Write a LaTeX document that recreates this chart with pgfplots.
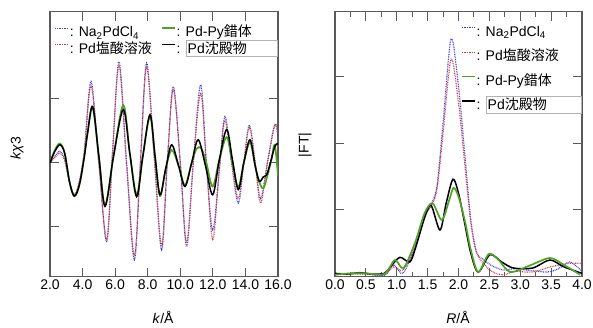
\documentclass[border=0pt]{standalone}
\usepackage{pgfplots}
\pgfplotsset{compat=1.18}
\usepackage{fontspec}
\setmainfont{Liberation Sans}
\newfontfamily\cjk{Noto Sans CJK JP}
\definecolor{cblue}{RGB}{60,60,220}
\definecolor{cred}{RGB}{200,60,60}
\definecolor{cgreen}{RGB}{80,160,40}
\definecolor{axgray}{RGB}{90,90,90}
\newcommand{\lt}[1]{\raisebox{0pt}[11bp][3bp]{#1}}
\pgfplotsset{
  myaxis/.style={
    scale only axis,
    axis line style={axgray,line width=1.1pt},
    every tick/.style={axgray,line width=1pt},
    tick align=inside,
    major tick length=9bp,
    minor tick length=5bp,
    xtick pos=both, ytick pos=both,
    yticklabels={},
    xticklabel style={/pgf/number format/fixed,/pgf/number format/fixed zerofill,/pgf/number format/precision=1,/pgf/number format/assume math mode=true},
    legend cell align=left,
    legend image code/.code={\draw[#1] (0bp,4bp) -- (13bp,4bp);},
    legend style={draw=none, fill=none, inner sep=0pt, outer sep=0pt, font=\fontsize{14bp}{16bp}\selectfont,
      nodes={inner sep=1bp}},
  },
  dotb/.style={cblue, line width=1.2pt, dash pattern=on 0.8pt off 0.9pt},
  dotr/.style={cred, line width=1.2pt, dash pattern=on 0.8pt off 0.9pt},
  solg/.style={cgreen, line width=1.7pt},
  solk/.style={black, line width=1.5pt},
}
\setlength{\fboxsep}{1.5bp}
\setlength{\fboxrule}{0.5bp}
\begin{document}
\begin{tikzpicture}[font=\fontsize{14bp}{16bp}\selectfont]
\path[use as bounding box] (-50bp,-51.3bp) rectangle (543bp,276.7bp);
% ---------------- left: k-space ----------------
\begin{axis}[myaxis,
  at={(0bp,0bp)}, anchor=south west,
  width=228bp, height=265bp,
  xmin=2, xmax=16, ymin=-1.78, ymax=2.36,
  xtick={2,4,...,16}, ytick={-1,0,1},
  xlabel={\textit{k}/Å},
  ylabel={\textit{kχ}3},
  xlabel style={at={(axis description cs:0.496,-0.155)}, anchor=center},
  ylabel style={at={(axis description cs:-0.145,0.486)}, anchor=center},
  legend columns=2,
  legend style={at={(axis description cs:0.02,0.95)}, anchor=north west, /tikz/every even column/.append style={column sep=8bp}, row sep=2bp},
]
\addlegendimage{dotb}\addlegendentry{\lt{: Na\textsubscript{2}PdCl\textsubscript{4}}}
\addlegendimage{solg}\addlegendentry{\lt{: Pd-Py{\cjk 錯体}}}
\addlegendimage{dotr}\addlegendentry{\lt{: Pd{\cjk 塩酸溶液}}}
\addlegendimage{solk}\addlegendentry{\lt{: \fcolorbox{gray!60}{white}{\makebox[88bp][l]{Pd{\cjk 沈殿物}}}}}
\addplot[dotb, smooth, tension=0.55, forget plot] coordinates {
(2.0,0.0)(2.3,0.1)(2.6,0.18)(2.9,0.05)(3.2,-0.3)(3.49,-0.52)(3.8,-0.3)(4.1,0.15)
(4.52,1.27)(5.0,0.0)(5.48,-1.23)(5.85,0.2)(6.24,1.58)(6.7,0.0)(7.18,-1.52)(7.55,0.0)
(7.93,1.56)(8.4,0.1)(8.85,-1.36)(9.2,0.0)(9.57,1.19)(10.0,0.0)(10.39,-1.31)(10.8,0.0)
(11.25,1.22)(11.6,0.0)(11.99,-1.05)(12.4,-0.1)(12.74,0.72)(13.15,0.0)(13.56,-0.63)(13.9,0.0)
(14.24,0.59)(14.6,0.0)(14.93,-0.56)(15.35,0.0)(15.8,0.59)(16.0,0.4)};
\addplot[dotr, smooth, tension=0.55, forget plot] coordinates {
(2.0,0.0)(2.3,0.08)(2.6,0.15)(2.9,0.04)(3.2,-0.3)(3.49,-0.5)(3.8,-0.3)(4.1,0.15)
(4.52,1.2)(5.0,0.0)(5.48,-1.2)(5.85,0.2)(6.24,1.52)(6.7,0.0)(7.18,-1.45)(7.55,0.0)
(7.93,1.5)(8.4,0.1)(8.85,-1.3)(9.2,0.0)(9.57,1.15)(10.0,0.0)(10.39,-1.25)(10.8,0.0)
(11.25,1.08)(11.6,0.0)(11.99,-1.2)(12.4,-0.1)(12.74,0.66)(13.15,0.0)(13.56,-0.56)(13.9,0.0)
(14.24,0.55)(14.6,0.0)(14.93,-0.63)(15.35,0.0)(15.8,0.6)(16.0,0.45)};
\addplot[solg, smooth, tension=0.55, forget plot] coordinates {
(2.0,0.0)(2.3,0.2)(2.61,0.3)(2.9,0.15)(3.2,-0.3)(3.49,-0.52)(3.8,-0.35)(4.1,0.1)(4.3,0.45)
(4.62,0.86)(5.0,0.1)(5.38,-0.66)(5.9,0.1)(6.5,0.9)(6.9,0.15)(7.32,-0.5)(7.7,0.1)
(8.14,0.72)(8.45,0.1)(8.75,-0.52)(9.1,-0.1)(9.47,0.2)(9.9,-0.05)(10.29,-0.35)(10.7,0.0)
(11.0,0.22)(11.3,0.22)(11.6,0.0)(11.99,-0.37)(12.4,0.05)(12.85,0.4)(13.2,0.0)(13.56,-0.38)(13.9,0.0)
(14.28,0.32)(14.6,-0.05)(14.85,-0.3)(15.1,-0.4)(15.35,-0.2)(15.6,0.05)(15.8,0.28)(16.0,-0.2)};
\addplot[solk, smooth, tension=0.55, forget plot] coordinates {
(2.0,0.0)(2.3,0.18)(2.61,0.28)(2.9,0.15)(3.2,-0.3)(3.49,-0.52)(3.8,-0.35)(4.1,0.08)(4.3,0.45)
(4.62,0.88)(5.0,0.1)(5.38,-0.68)(5.9,0.1)(6.5,0.83)(6.9,0.15)(7.32,-0.53)(7.7,0.1)
(8.14,0.75)(8.45,0.1)(8.75,-0.5)(9.1,-0.1)(9.47,0.28)(9.9,-0.05)(10.29,-0.37)(10.7,0.0)
(11.1,0.36)(11.55,-0.05)(11.99,-0.5)(12.4,0.05)(12.85,0.52)(13.2,0.05)(13.56,-0.42)(13.9,0.0)
(14.28,0.36)(14.6,-0.05)(14.85,-0.29)(15.1,-0.22)(15.3,-0.19)(15.5,-0.03)(15.8,0.25)(16.0,0.3)};
\end{axis}
% ---------------- right: R-space ----------------
\begin{axis}[myaxis,
  at={(285bp,0bp)}, anchor=south west,
  width=247bp, height=265bp,
  xmin=0, xmax=4, ymin=0, ymax=3.97,
  xtick={0,0.5,...,4}, minor x tick num=1, ytick={1,2,3},
  xlabel={\textit{R}/Å},
  ylabel={|FT|},
  xlabel style={at={(axis description cs:0.498,-0.155)}, anchor=center},
  ylabel style={at={(axis description cs:-0.121,0.497)}, anchor=center},
  legend style={at={(axis description cs:0.51,0.952)}, anchor=north west, row sep=10bp},
]
\addlegendimage{dotb}\addlegendentry{\lt{: Na\textsubscript{2}PdCl\textsubscript{4}}}
\addlegendimage{dotr}\addlegendentry{\lt{: Pd{\cjk 塩酸溶液}}}
\addlegendimage{solg}\addlegendentry{\lt{: Pd-Py{\cjk 錯体}}}
\addlegendimage{solk}\addlegendentry{\lt{: \fcolorbox{gray!60}{white}{\makebox[92bp][l]{Pd{\cjk 沈殿物}}}}}
\addplot[dotb, smooth, tension=0.5, forget plot] coordinates {
(0.0,0.03)(0.25,0.05)(0.5,0.04)(0.8,0.02)(0.95,0.18)(1.1,0.05)(1.3,0.45)(1.45,0.9)
(1.55,1.07)(1.65,1.35)(1.75,2.3)(1.88,3.56)(2.0,2.85)(2.1,1.85)(2.2,0.85)(2.29,0.37)
(2.4,0.26)(2.55,0.16)(2.73,0.1)(2.9,0.12)(3.1,0.1)(3.43,0.07)(3.62,0.12)(3.8,0.22)(4.0,0.08)};
\addplot[dotr, smooth, tension=0.5, forget plot] coordinates {
(0.0,0.03)(0.25,0.04)(0.5,0.04)(0.8,0.03)(0.95,0.15)(1.1,0.1)(1.3,0.45)(1.45,0.9)
(1.55,1.05)(1.65,1.3)(1.75,2.15)(1.88,3.26)(2.0,2.6)(2.1,1.7)(2.2,0.8)(2.3,0.35)
(2.45,0.15)(2.6,0.05)(2.75,0.03)(2.9,0.08)(3.2,0.07)(3.5,0.15)(3.8,0.2)(4.0,0.2)};
\addplot[solk, smooth, tension=0.5, forget plot] coordinates {
(0.0,0.05)(0.2,0.04)(0.4,0.06)(0.6,0.04)(0.8,0.05)(0.9,0.15)(1.05,0.29)(1.21,0.22)
(1.3,0.42)(1.45,0.88)(1.555,1.07)(1.70,0.70)(1.8,1.1)(1.91,1.46)(2.0,1.25)(2.1,0.8)
(2.2,0.35)(2.32,0.07)(2.51,0.33)(2.7,0.22)(2.89,0.13)(3.2,0.13)(3.48,0.25)(3.7,0.15)(4.0,0.05)};
\addplot[solg, smooth, tension=0.5, forget plot] coordinates {
(0.0,0.03)(0.25,0.05)(0.5,0.05)(0.8,0.04)(0.97,0.25)(1.11,0.13)(1.3,0.52)(1.45,0.95)
(1.58,1.10)(1.73,0.85)(1.85,1.15)(1.92,1.33)(2.0,1.2)(2.1,0.85)(2.2,0.4)(2.32,0.07)
(2.49,0.34)(2.65,0.25)(2.84,0.07)(3.16,0.17)(3.48,0.28)(3.7,0.18)(3.97,0.03)};
\end{axis}
\end{tikzpicture}
\end{document}
